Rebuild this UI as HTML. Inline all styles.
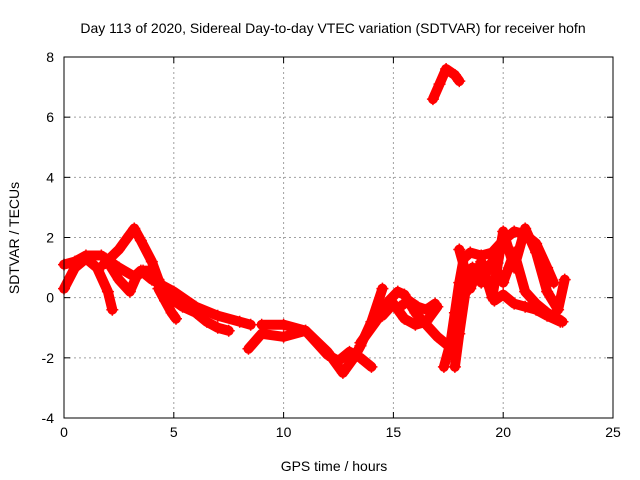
<!DOCTYPE html>
<html><head><meta charset="utf-8"><style>
html,body{margin:0;padding:0;background:#fff;}
svg{display:block;font-family:"Liberation Sans",sans-serif;}
</style></head><body>
<svg id="chart" width="640" height="480">
<text x="333" y="33" text-anchor="middle" font-size="14">Day 113 of 2020, Sidereal Day-to-day VTEC variation (SDTVAR) for receiver hofn</text>
<text x="334" y="471" text-anchor="middle" font-size="14">GPS time / hours</text>
<text transform="translate(19,238) rotate(-90)" text-anchor="middle" font-size="14">SDTVAR / TECUs</text>
<g id="grid"></g><g id="axes"></g><g id="data"></g>
<rect x="64" y="57" width="549" height="361" fill="none" stroke="#000" stroke-width="1"/>
</svg>
<script>
const xTicks=[0,5,10,15,20,25];
const yTicks=[-4,-2,0,2,4,6,8];
const trackMainX=[0,0.5,1.0,1.7,2.5,3.2,3.5,4.0,5.0,6.0,7.0,8.0,8.5];
const trackMainY=[1.1,1.2,1.4,1.4,1.0,0.7,0.9,0.6,0.2,-0.3,-0.6,-0.8,-0.9];
const trackAX=[0,0.5,1.0,1.5,2.0,2.2];
const trackAY=[0.3,1.0,1.3,1.0,0.2,-0.4];
const trackBX=[1.8,2.5,3.0,3.2,3.5,4.0,4.3,4.6,5.0,5.4,6.0,6.5,7.0,7.5];
const trackBY=[1.1,1.6,2.1,2.3,1.9,1.2,0.6,0.2,-0.1,-0.3,-0.5,-0.8,-1.0,-1.1];
const trackCX=[1.9,2.5,3.0,3.3,3.6,4.0];
const trackCY=[1.3,0.6,0.2,0.7,0.9,0.9];
const trackDX=[4.3,4.6,4.9,5.1];
const trackDY=[0.3,-0.1,-0.5,-0.7];
const trackEX=[8.4,9.0,10.0,11.0,12.0,12.7,13.2,13.5,14.0,14.5];
const trackEY=[-1.7,-1.2,-1.3,-1.1,-1.8,-2.5,-2.0,-1.6,-0.8,0.3];
const trackFX=[9.0,10.0,11.0,11.5,12.0,12.5,13.0,13.5,14.0];
const trackFY=[-0.9,-0.9,-1.1,-1.5,-1.9,-2.1,-1.8,-2.0,-2.3];
const trackGX=[13.5,14.2,14.8,15.2,15.5,16.0,16.5,17.0,17.5];
const trackGY=[-1.5,-0.8,-0.1,0.2,0.1,-0.5,-0.9,-1.3,-1.6];
const trackHX=[14.5,15.0,15.5,16.0,16.5,17.0];
const trackHY=[-0.6,-0.2,-0.7,-0.9,-0.8,-0.3];
const trackIX=[15.3,15.7,16.1,16.5,16.9];
const trackIY=[-0.3,-0.1,-0.3,-0.4,-0.2];
const trackJX=[17.3,17.6,17.8,18.0,18.2,18.5,19.0,19.5,20.0,20.5,21.0,21.5,22.0,22.3];
const trackJY=[-2.3,-1.5,-0.5,0.5,1.3,1.5,1.4,1.5,1.9,2.2,2.1,1.8,1.0,0.5];
const trackKX=[17.8,18.0,18.3,18.6,19.0,19.5,20.0,20.5,21.0,21.5,22.0,22.5,22.7];
const trackKY=[-2.3,-1.2,0.3,1.0,0.5,1.2,0.5,1.5,0.2,-0.2,-0.5,-0.7,-0.8];
const trackLX=[18.0,18.5,19.0,19.5,20.0,20.5,21.0,21.5,22.0,22.5,22.8];
const trackLY=[1.6,0.3,1.2,0.0,2.2,1.0,2.3,1.5,0.2,-0.4,0.6];
const trackMX=[19.6,20.0,20.5,21.0,21.5,22.0,22.6];
const trackMY=[-0.1,0.1,-0.2,-0.3,-0.4,-0.6,-0.8];
const trackTopX=[16.8,17.1,17.4,17.8,18.0];
const trackTopY=[6.6,7.1,7.6,7.4,7.2];
const tracks=[[trackMainX,trackMainY],[trackAX,trackAY],[trackBX,trackBY],[trackCX,trackCY],[trackDX,trackDY],[trackEX,trackEY],[trackFX,trackFY],[trackGX,trackGY],[trackHX,trackHY],[trackIX,trackIY],[trackJX,trackJY],[trackKX,trackKY],[trackLX,trackLY],[trackMX,trackMY],[trackTopX,trackTopY]];
const X0=64,X1=613,Y0=418,Y1=57;
function sx(v){return X0+(v-0)/(25-0)*(X1-X0);}
function sy(v){return Y0-(v+4)/(8+4)*(Y0-Y1);}
const NS="http://www.w3.org/2000/svg";
function mk(t,a,p){const e=document.createElementNS(NS,t);for(const k in a)e.setAttribute(k,a[k]);p.appendChild(e);return e;}
const grid=document.getElementById('grid'),axes=document.getElementById('axes'),data=document.getElementById('data');
xTicks.forEach(t=>{const x=sx(t);
 if(t>0&&t<25){const g=mk('line',{x1:x,x2:x,y1:Y1,y2:Y0,stroke:'#a0a0a0','stroke-dasharray':'2,3'},grid);
 
 }
 mk('line',{x1:x,x2:x,y1:Y0,y2:Y0-6,stroke:'#000'},axes);mk('line',{x1:x,x2:x,y1:Y1,y2:Y1+6,stroke:'#000'},axes);
 const l=mk('text',{x:x,y:Y0+19,'text-anchor':'middle','font-size':'14'},axes);l.textContent=t;
 
 });
yTicks.forEach(t=>{const y=sy(t);
 if(t>-4&&t<8){const g=mk('line',{x1:X0,x2:X1,y1:y,y2:y,stroke:'#a0a0a0','stroke-dasharray':'2,3'},grid);
 
 }
 mk('line',{x1:X0,x2:X0+6,y1:y,y2:y,stroke:'#000'},axes);mk('line',{x1:X1,x2:X1-6,y1:y,y2:y,stroke:'#000'},axes);
 const l=mk('text',{x:X0-10,y:y+5,'text-anchor':'end','font-size':'14'},axes);l.textContent=t;
 
 });
tracks.forEach(([xs,ys])=>{
 const pts=xs.map((x,i)=>sx(x)+','+sy(ys[i])).join(' ');
 const pl=mk('polyline',{points:pts,fill:'none',stroke:'#f00','stroke-width':'10','stroke-linejoin':'round','stroke-linecap':'round'},data);
 
 
 xs.forEach((x,i)=>{const cx=sx(x),cy=sy(ys[i]);
  const p=mk('path',{d:`M${cx-6},${cy}h12M${cx},${cy-6}v12`,stroke:'#f00','stroke-width':'1.5'},data);
  
  });
});
</script>
</body></html>
